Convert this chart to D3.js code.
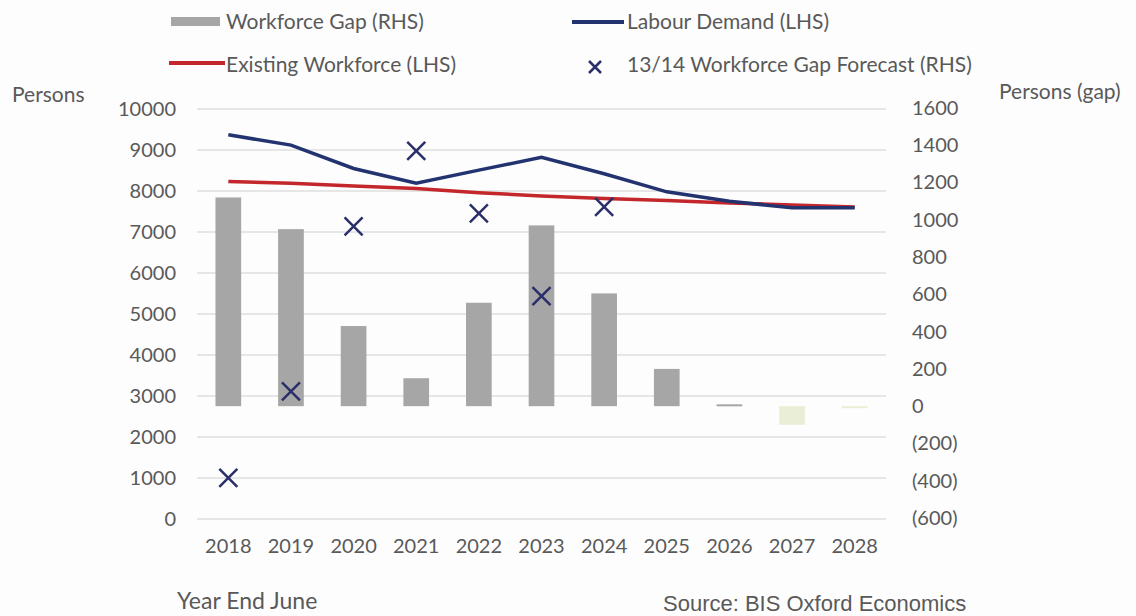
<!DOCTYPE html>
<html>
<head>
<meta charset="utf-8">
<script src="https://cdn.jsdelivr.net/npm/d3@7"></script>
<style>
  body { margin: 0; background: #fdfdfd; }
  text { font-family: Lato, "Open Sans", sans-serif; fill: #595959; }
</style>
</head>
<body>
<div id="chart"></div>
<script>
// Chart data
var years = ["2018", "2019", "2020", "2021", "2022", "2023", "2024", "2025", "2026", "2027", "2028"];
var workforceGap = [1120, 950, 430, 150, 555, 970, 605, 200, 10, -100, -10];
var labourDemand = [9370, 9120, 8550, 8190, 8510, 8820, 8420, 7980, 7750, 7590, 7590];
var existingWorkforce = [8230, 8190, 8120, 8060, 7960, 7880, 7820, 7770, 7710, 7660, 7610];
var forecastYears = ["2018", "2019", "2020", "2021", "2022", "2023", "2024"];
var forecastGap = [-385, 80, 965, 1370, 1035, 590, 1070];
var leftTicks = [0, 1000, 2000, 3000, 4000, 5000, 6000, 7000, 8000, 9000, 10000];
var rightTicks = [-600, -400, -200, 0, 200, 400, 600, 800, 1000, 1200, 1400, 1600];

var width = 1136, height = 616;

var svg = d3.select("#chart").append("svg")
  .attr("width", width)
  .attr("height", height);

var x = d3.scaleBand()
  .domain(years)
  .range([197, 886]);

var yLeft = d3.scaleLinear()
  .domain([0, 10000])
  .range([519, 109]);

var yRight = d3.scaleLinear()
  .domain([-600, 1600])
  .range([518, 108]);

// gridlines follow the left axis
svg.append("g")
  .selectAll("line")
  .data(leftTicks)
  .enter().append("line")
    .attr("x1", 197)
    .attr("x2", 886)
    .attr("y1", function(d) { return yLeft(d); })
    .attr("y2", function(d) { return yLeft(d); })
    .attr("stroke", "#e6e6e6")
    .attr("stroke-width", 2);

function styleTicks(g) {
  g.select(".domain").remove();
  g.selectAll("text")
    .style("font-size", "20px")
    .style("font-family", "Lato, sans-serif")
    .attr("fill", "#595959");
}

// left axis labels
svg.append("g")
  .attr("transform", "translate(180,0)")
  .call(d3.axisLeft(yLeft).tickValues(leftTicks).tickSize(0).tickPadding(4)
    .tickFormat(d3.format("d")))
  .call(styleTicks);

// right axis labels
svg.append("g")
  .attr("transform", "translate(908,0)")
  .call(d3.axisRight(yRight).tickValues(rightTicks).tickSize(0).tickPadding(4)
    .tickFormat(function(d) { return d < 0 ? "(" + Math.abs(d) + ")" : d; }))
  .call(styleTicks);

// x axis labels
svg.append("g")
  .attr("transform", "translate(0,534)")
  .call(d3.axisBottom(x).tickSize(0).tickPadding(5))
  .call(styleTicks);

// workforce gap bars (RHS)
var barW = x.bandwidth() * 0.41;
svg.append("g")
  .selectAll("rect")
  .data(workforceGap)
  .enter().append("rect")
    .attr("x", function(d, i) { return x(years[i]) + x.bandwidth() / 2 - barW / 2; })
    .attr("y", function(d) { return yRight(Math.max(0, d)); })
    .attr("width", barW)
    .attr("height", function(d) { return Math.max(2, Math.abs(yRight(d) - yRight(0))); })
    .attr("fill", function(d) { return d < 0 ? "#eaeed6" : "#a6a6a6"; });

// lines (LHS)
var line = d3.line()
  .x(function(d, i) { return x(years[i]) + x.bandwidth() / 2; })
  .y(function(d) { return yLeft(d); });

svg.append("path")
  .datum(existingWorkforce)
  .attr("d", line)
  .attr("fill", "none")
  .attr("stroke", "#c3262b")
  .attr("stroke-width", 3.5);

svg.append("path")
  .datum(labourDemand)
  .attr("d", line)
  .attr("fill", "none")
  .attr("stroke", "#22336f")
  .attr("stroke-width", 3.5);

// 13/14 forecast markers (RHS)
var m = 9;
svg.append("g")
  .selectAll("path")
  .data(forecastGap)
  .enter().append("path")
    .attr("transform", function(d, i) {
      return "translate(" + (x(forecastYears[i]) + x.bandwidth() / 2) + "," + yRight(d) + ")";
    })
    .attr("d", "M" + (-m) + "," + (-m) + "L" + m + "," + m + "M" + (-m) + "," + m + "L" + m + "," + (-m))
    .attr("stroke", "#2a2f6a")
    .attr("stroke-width", 2.5);

// legend
var legend = svg.append("g").style("font-size", "21px");
legend.append("rect")
  .attr("x", 171).attr("y", 17).attr("width", 49).attr("height", 9)
  .attr("fill", "#a6a6a6");
legend.append("text")
  .attr("x", 226).attr("y", 29).text("Workforce Gap (RHS)");
legend.append("line")
  .attr("x1", 572).attr("x2", 624).attr("y1", 22).attr("y2", 22)
  .attr("stroke", "#22336f").attr("stroke-width", 4);
legend.append("text")
  .attr("x", 627).attr("y", 29).text("Labour Demand (LHS)");
legend.append("line")
  .attr("x1", 169).attr("x2", 225).attr("y1", 63).attr("y2", 63)
  .attr("stroke", "#c3262b").attr("stroke-width", 4);
legend.append("text")
  .attr("x", 226).attr("y", 72).text("Existing Workforce (LHS)");
legend.append("path")
  .attr("transform", "translate(595,67)")
  .attr("d", "M-6,-6L6,6M-6,6L6,-6")
  .attr("stroke", "#2a2f6a").attr("stroke-width", 2.5);
legend.append("text")
  .attr("x", 627).attr("y", 72).text("13/14 Workforce Gap Forecast (RHS)");

// axis titles and notes
svg.append("text").attr("x", 12).attr("y", 102).text("Persons").style("font-size", "21px");
svg.append("text").attr("x", 999).attr("y", 99).text("Persons (gap)").style("font-size", "21px");
svg.append("text").attr("x", 177).attr("y", 609).text("Year End June").style("font-size", "23px");
svg.append("text").attr("x", 663).attr("y", 611).text("Source: BIS Oxford Economics")
  .style("font-size", "22px").style("font-family", "Liberation Sans, Arial, sans-serif");
</script>
</body>
</html>
